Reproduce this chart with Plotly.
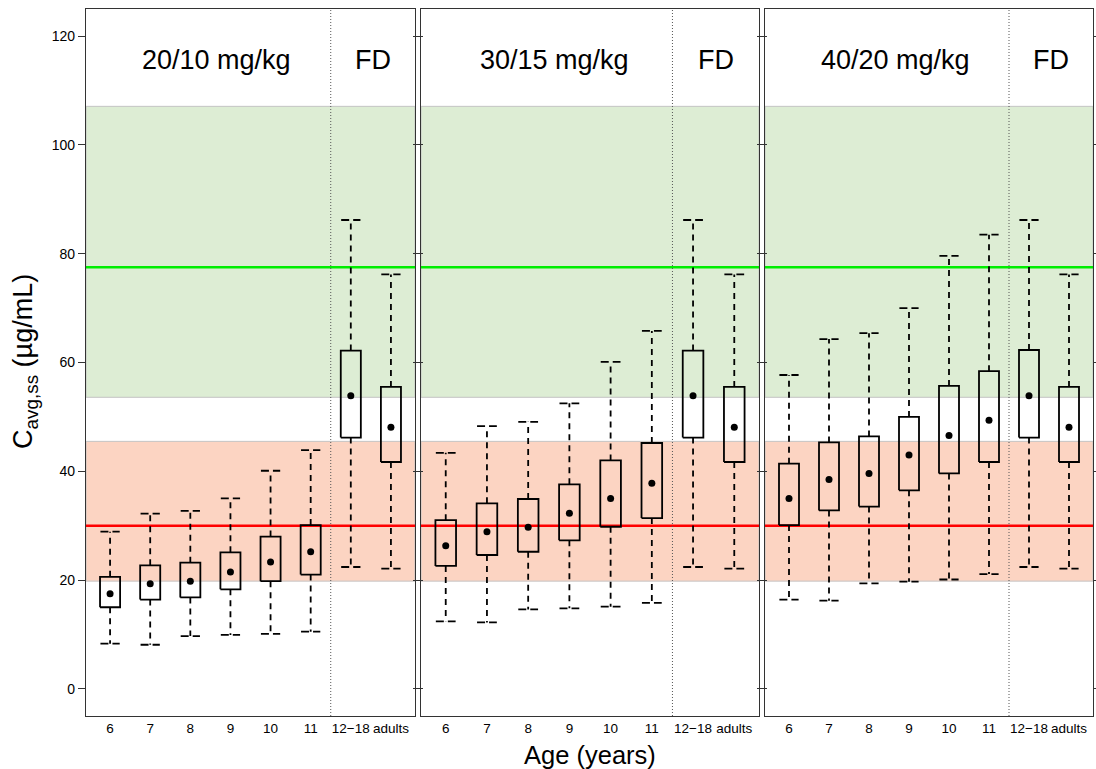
import plotly.graph_objects as go

categories = ["6", "7", "8", "9", "10", "11", "12\u221218", "adults"]
panel_titles = ["20/10 mg/kg", "30/15 mg/kg", "40/20 mg/kg"]
fd_label = "FD"

p1_lower = [8.3, 8.1, 9.7, 9.9, 10.1, 10.5, 22.4, 22.1]
p1_q1 = [15.0, 16.4, 16.8, 18.3, 19.8, 21.0, 46.2, 41.7]
p1_med = [17.5, 19.3, 19.8, 21.5, 23.3, 25.2, 53.9, 48.1]
p1_q3 = [20.6, 22.7, 23.2, 25.1, 28.0, 30.1, 62.2, 55.5]
p1_upper = [28.9, 32.2, 32.7, 35.0, 40.1, 43.9, 86.2, 76.2]

p2_lower = [12.4, 12.2, 14.6, 14.8, 15.1, 15.8, 22.4, 22.1]
p2_q1 = [22.6, 24.6, 25.2, 27.3, 29.8, 31.4, 46.2, 41.7]
p2_med = [26.3, 28.9, 29.7, 32.3, 35.0, 37.8, 53.9, 48.1]
p2_q3 = [31.0, 34.1, 34.9, 37.6, 42.0, 45.2, 62.2, 55.5]
p2_upper = [43.4, 48.3, 49.1, 52.5, 60.1, 65.8, 86.2, 76.2]

p3_lower = [16.4, 16.2, 19.4, 19.7, 20.1, 21.1, 22.4, 22.1]
p3_q1 = [30.1, 32.8, 33.5, 36.5, 39.6, 41.7, 46.2, 41.7]
p3_med = [35.0, 38.5, 39.6, 43.0, 46.6, 49.4, 53.9, 48.1]
p3_q3 = [41.4, 45.3, 46.4, 50.0, 55.7, 58.4, 62.3, 55.5]
p3_upper = [57.7, 64.3, 65.4, 70.0, 79.6, 83.5, 86.2, 76.2]

green_band = [53.6, 107.1]
red_band = [19.8, 45.5]
green_target = 77.5
red_target = 30.0
fd_split = 6.5
y_ticks = [0, 20, 40, 60, 80, 100, 120]

panels = [
    (p1_lower, p1_q1, p1_med, p1_q3, p1_upper),
    (p2_lower, p2_q1, p2_med, p2_q3, p2_upper),
    (p3_lower, p3_q1, p3_med, p3_q3, p3_upper),
]

W, H = 1096, 769


def fx(px):
    return px / W


def fy(py):
    return 1 - py / H


x_doms_px = [(86, 415), (421, 759), (765, 1093)]
y_dom_px = (9, 716)
FONT = "Liberation Sans, Arial, Helvetica, sans-serif"

fig = go.Figure()
box_hw = 0.25
cap_hw = 0.24
xs = list(range(1, len(categories) + 1))

for p, (lo, q1, med, q3, up) in enumerate(panels):
    sfx = "" if p == 0 else str(p + 1)
    xa, ya = "x" + sfx, "y" + sfx
    # whiskers
    wx, wy = [], []
    for x, a, b, c, d in zip(xs, lo, q1, q3, up):
        wx += [x, x, None, x, x, None]
        wy += [c, d, None, b, a, None]
    fig.add_trace(go.Scatter(x=wx, y=wy, mode="lines", xaxis=xa, yaxis=ya,
                             line=dict(color="black", width=1.8, dash="6px,5px"),
                             hoverinfo="skip", showlegend=False))
    # caps
    cx, cy = [], []
    for x, a, d in zip(xs, lo, up):
        cx += [x - cap_hw, x + cap_hw, None, x - cap_hw, x + cap_hw, None]
        cy += [d, d, None, a, a, None]
    fig.add_trace(go.Scatter(x=cx, y=cy, mode="lines", xaxis=xa, yaxis=ya,
                             line=dict(color="black", width=1.8, dash="8px,4px"),
                             hoverinfo="skip", showlegend=False))
    # boxes
    bx, by = [], []
    for x, b, c in zip(xs, q1, q3):
        bx += [x - box_hw, x + box_hw, x + box_hw, x - box_hw, x - box_hw, None]
        by += [b, b, c, c, b, None]
    fig.add_trace(go.Scatter(x=bx, y=by, mode="lines", xaxis=xa, yaxis=ya,
                             line=dict(color="black", width=1.8),
                             hoverinfo="skip", showlegend=False))
    # medians
    fig.add_trace(go.Scatter(x=xs, y=med, mode="markers", xaxis=xa, yaxis=ya,
                             marker=dict(color="black", size=7),
                             hoverinfo="skip", showlegend=False))

    # bands
    fig.add_shape(type="rect", xref=xa + " domain", yref=ya, x0=0, x1=1,
                  y0=green_band[0], y1=green_band[1], layer="below",
                  fillcolor="#DDEDD4", line=dict(color="#C4C4C4", width=1))
    fig.add_shape(type="rect", xref=xa + " domain", yref=ya, x0=0, x1=1,
                  y0=red_band[0], y1=red_band[1], layer="below",
                  fillcolor="#FCD4C2", line=dict(color="#C4C4C4", width=1))
    fig.add_shape(type="line", xref=xa + " domain", yref=ya, x0=0, x1=1,
                  y0=green_target, y1=green_target, layer="below",
                  line=dict(color="#00EE00", width=2.5))
    fig.add_shape(type="line", xref=xa + " domain", yref=ya, x0=0, x1=1,
                  y0=red_target, y1=red_target, layer="below",
                  line=dict(color="#FF0000", width=2.5))
    fig.add_shape(type="line", xref=xa, yref=ya + " domain", x0=fd_split, x1=fd_split,
                  y0=0, y1=1, layer="above",
                  line=dict(color="#555555", width=1, dash="1px,2px"))

    fig.add_annotation(x=3.65, y=115.6, xref=xa, yref=ya, text=panel_titles[p],
                       showarrow=False, font=dict(size=27, color="black", family=FONT))
    fig.add_annotation(x=7.55, y=115.6, xref=xa, yref=ya, text=fd_label,
                       showarrow=False, font=dict(size=27, color="black", family=FONT))

    d0, d1 = x_doms_px[p]
    fig.update_layout(**{
        "xaxis" + sfx: dict(domain=[fx(d0), fx(d1)], range=[0.4, 8.6],
                            tickmode="array", tickvals=xs, ticktext=categories,
                            tickangle=0,
                            showline=True, mirror=True, linecolor="#333333", linewidth=1.2,
                            ticks="", showgrid=False, zeroline=False, anchor=ya,
                            tickfont=dict(size=13.5, color="black", family=FONT)),
        "yaxis" + sfx: dict(domain=[fy(y_dom_px[1]), fy(y_dom_px[0])],
                            range=[-5, 125], tickmode="array", tickvals=y_ticks,
                            showticklabels=(p == 0), ticks="outside", ticklen=7,
                            tickcolor="#333333", tickwidth=1,
                            showline=True, mirror="ticks", linecolor="#333333", linewidth=1.2,
                            showgrid=False, zeroline=False, anchor=xa,
                            tickfont=dict(size=14, color="black", family=FONT)),
    })

fig.add_annotation(x=fx(25), y=fy(362), xref="paper", yref="paper",
                   xanchor="center", yanchor="middle",
                   text="C<sub>avg,ss</sub> (\u00b5g/mL)", textangle=-90, showarrow=False,
                   font=dict(size=27, color="black", family=FONT))
fig.add_annotation(x=fx(590), y=fy(755), xref="paper", yref="paper",
                   xanchor="center", yanchor="middle",
                   text="Age (years)", showarrow=False,
                   font=dict(size=25.5, color="black", family=FONT))

fig.update_layout(width=W, height=H, autosize=False,
                  margin=dict(l=0, r=0, t=0, b=0, autoexpand=False),
                  plot_bgcolor="white", paper_bgcolor="white",
                  font=dict(family=FONT, color="black"), showlegend=False)

fig.write_html("out.html",
               config={"responsive": False, "displayModeBar": False},
               post_script="document.body.style.margin='0px';"
                           "document.body.style.overflow='hidden';")
